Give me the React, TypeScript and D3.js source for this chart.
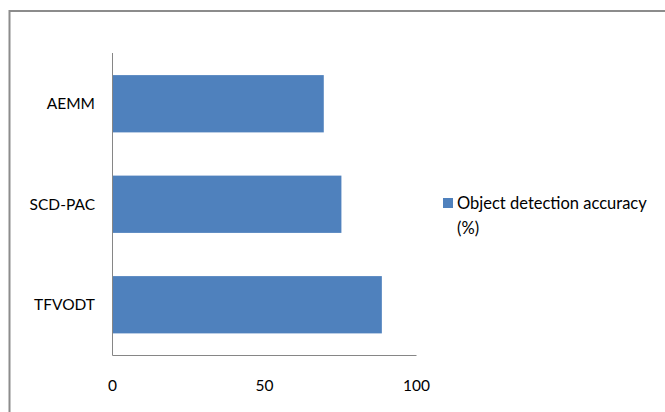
import React from "react";
import * as d3 from "d3";

const categories = ["AEMM", "SCD-PAC", "TFVODT"];
const accuracy = [69.5, 75.3, 88.6];
const xTicks = [0, 50, 100];
const seriesName = ["Object detection accuracy", "(%)"];

const W = 665;
const H = 412;
const FONT = "Lato, 'Open Sans', sans-serif";

export default function App() {
  const x = d3.scaleLinear().domain([0, 100]).range([112.5, 416.5]);
  const y = d3.scaleBand<string>().domain(categories).range([53.5, 355]).paddingInner(0.43).paddingOuter(0.215);
  const color = "#4F81BD";
  return (
    <svg width={W} height={H} style={{ position: "fixed", left: 0, top: 0, background: "#fff" }}>
      <rect x={0} y={0} width={W} height={H} fill="#fff" />
      <path d={`M9.5,${H} V11 H${W}`} fill="none" stroke="#8c8c8c" strokeWidth={2} />
      {categories.map((c, i) => (
        <rect key={c} x={x(0)} y={y(c)} width={x(accuracy[i]) - x(0)} height={y.bandwidth()} fill={color} />
      ))}
      <line x1={x(0)} x2={x(0)} y1={53} y2={355.5} stroke="#868686" strokeWidth={1} />
      <line x1={x(0)} x2={x(100)} y1={355.5} y2={355.5} stroke="#868686" strokeWidth={1} />
      {categories.map((c) => (
        <text key={c} x={95} y={(y(c) as number) + y.bandwidth() / 2 + 5.5} textAnchor="end" fontFamily={FONT} fontSize={15.5} fill="#000">
          {c}
        </text>
      ))}
      {xTicks.map((t) => (
        <text key={t} x={x(t)} y={391} textAnchor="middle" fontFamily={FONT} fontSize={15.5} fill="#000">
          {t}
        </text>
      ))}
      <rect x={443} y={198} width={10} height={10} fill={color} />
      <text x={457} y={208.5} fontFamily={FONT} fontSize={16.5} fill="#000">{seriesName[0]}</text>
      <text x={457} y={234} fontFamily={FONT} fontSize={16.5} fill="#000">{seriesName[1]}</text>
    </svg>
  );
}
